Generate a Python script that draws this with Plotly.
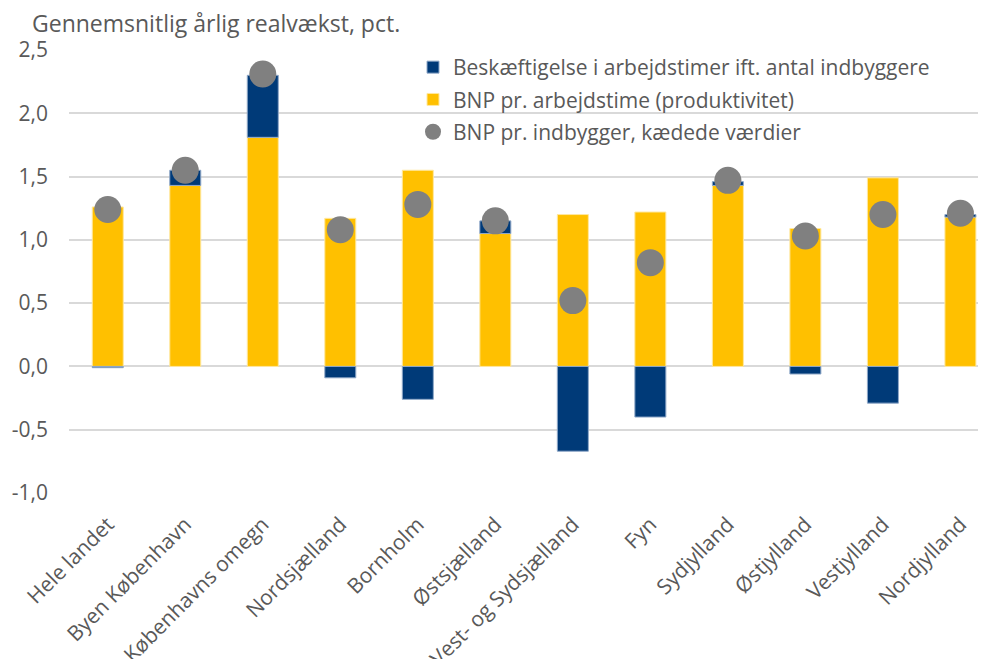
import plotly.graph_objects as go

categories = ["Hele landet", "Byen København", "Københavns omegn", "Nordsjælland",
              "Bornholm", "Østsjælland", "Vest- og Sydsjælland", "Fyn",
              "Sydjylland", "Østjylland", "Vestjylland", "Nordjylland"]
produktivitet = [1.26, 1.43, 1.81, 1.17, 1.55, 1.05, 1.20, 1.22, 1.43, 1.09, 1.49, 1.18]
beskaeftigelse = [-0.01, 0.12, 0.49, -0.09, -0.26, 0.10, -0.67, -0.40, 0.03, -0.06, -0.29, 0.02]
bnp_indbygger = [1.24, 1.55, 2.31, 1.08, 1.28, 1.15, 0.52, 0.82, 1.47, 1.03, 1.20, 1.21]
y_ticks = [-1.0, -0.5, 0.0, 0.5, 1.0, 1.5, 2.0, 2.5]
y_tick_labels = ["-1,0", "-0,5", "0,0", "0,5", "1,0", "1,5", "2,0", "2,5"]

TXT = "#595959"
FONT = "Open Sans"
W, H = 978, 651
L, R, T, B = 61, 0, 42, 166
PW = W - L - R
PH = H - T - B

fig = go.Figure()
fig.add_trace(go.Bar(x=categories, y=produktivitet, name="BNP pr. arbejdstime (produktivitet)",
                     marker=dict(color="#FFC000", line=dict(color="#FFE8A0", width=1)),
                     width=0.4, legendrank=2, legendgroup="b"))
fig.add_trace(go.Bar(x=categories, y=beskaeftigelse, name="Beskæftigelse i arbejdstimer ift. antal indbyggere",
                     marker=dict(color="#003A78", line=dict(color="#8FA8C8", width=1)),
                     width=0.4, legendrank=1, legendgroup="a"))
fig.add_trace(go.Scatter(x=categories, y=bnp_indbygger, mode="markers",
                         name="BNP pr. indbygger, kædede værdier",
                         marker=dict(color="#808080", size=27, line=dict(width=0)),
                         legendrank=3, legendgroup="c"))

fig.update_layout(
    width=W, height=H,
    barmode="relative",
    separators=", ",
    paper_bgcolor="white", plot_bgcolor="white",
    margin=dict(l=L, r=R, t=T, b=B),
    font=dict(family=FONT, color=TXT, size=21),
    showlegend=True,
    legend=dict(x=(405 - L) / PW, y=1 + 3 / PH, xanchor="left", yanchor="top",
                bgcolor="rgba(0,0,0,0)", font=dict(size=21, color=TXT),
                tracegroupgap=2, itemwidth=30, itemsizing="trace"),
    annotations=[dict(text="Gennemsnitlig årlig realvækst, pct.", xref="paper", yref="paper",
                      x=-L / PW, y=1.0, xanchor="left", yanchor="bottom",
                      yshift=9, xshift=22, showarrow=False,
                      font=dict(size=23, color=TXT, family=FONT))],
)
fig.update_xaxes(range=[-0.5, 11.33], tickangle=-45, showgrid=False, showline=False,
                 ticks="", automargin=False, ticklabelstandoff=14,
                 tickfont=dict(size=21, color=TXT, family=FONT))
fig.update_yaxes(range=[-1.0, 2.5], tickvals=y_ticks, ticktext=y_tick_labels,
                 showgrid=True, gridcolor="#D9D9D9", gridwidth=1.5,
                 zeroline=True, zerolinecolor="#D9D9D9", zerolinewidth=1.5,
                 ticks="", automargin=False,
                 tickfont=dict(size=21, color=TXT, family=FONT), ticklabelstandoff=20)

fig.write_html("out.html")
